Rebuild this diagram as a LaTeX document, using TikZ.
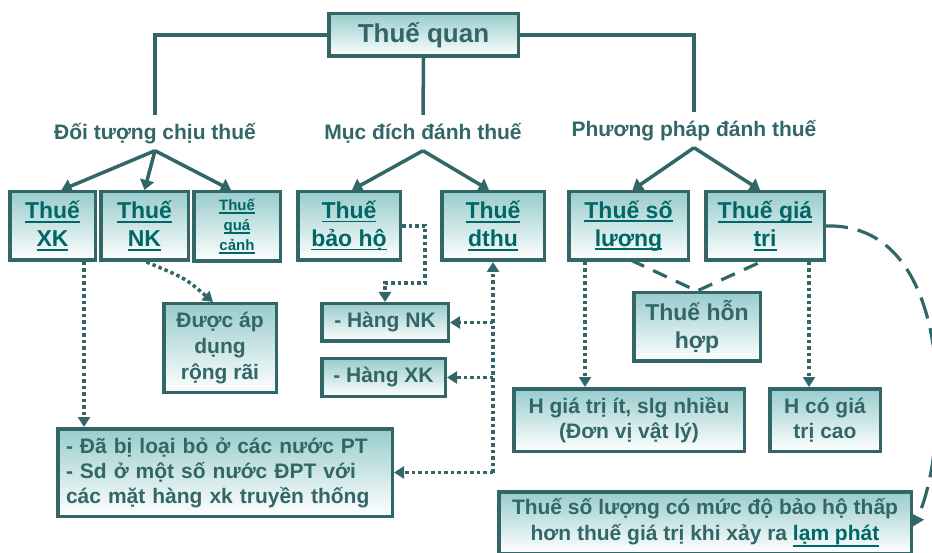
\documentclass[tikz,border=0pt]{standalone}
\usepackage{fontspec}
\setmainfont{Liberation Sans}
\newcommand{\myul}[1]{\setbox0\hbox{#1}\rlap{\vrule height -2pt depth 3.7pt width \wd0}\box0}
\newcommand{\myullow}[1]{\setbox0\hbox{#1}\rlap{\vrule height -5pt depth 6.8pt width \wd0}\box0}
\usetikzlibrary{arrows.meta,calc}
\definecolor{bord}{HTML}{336666}
\definecolor{boxtop}{HTML}{99CCCC}
\definecolor{txt}{HTML}{336666}
\definecolor{lnk}{HTML}{006666}
\tikzset{
  box/.style={draw=bord, line width=3.5pt, top color=boxtop, bottom color=white,
    inner sep=0pt, align=center, text=txt, font=\fontsize{21}{26}\selectfont\bfseries},
  topbox/.style={box, text=lnk, font=\fontsize{23}{28}\selectfont\bfseries},
  lbl/.style={text=txt, font=\fontsize{21}{24}\selectfont\bfseries, inner xsep=0pt,
    inner ysep=8.5pt, text height=16.5pt, text depth=2pt, anchor=base},
  conn/.style={draw=bord, line width=3.5pt},
  arr/.style={conn, -{Triangle[width=14pt,length=10pt]}},
  dotl/.style={draw=bord, line width=3.5pt, dash pattern=on 3.5pt off 3pt,
    -{Triangle[width=12pt,length=10pt]}},
  dashl/.style={draw=bord, line width=3.2pt, dash pattern=on 15pt off 10pt},
  dashlong/.style={draw=bord, line width=3.2pt, dash pattern=on 22pt off 10pt,
    -{Triangle[width=13pt,length=11pt]}},
}
\begin{document}
\begin{tikzpicture}[x=1pt,y=-1pt]
\clip (0,0) rectangle (932,553);
\fill[white] (0,0) rectangle (932,553);

% root
\node[box, font=\fontsize{26}{30}\selectfont\bfseries, minimum width=189.5pt, minimum height=42.5pt] (tq) at (423.5,35) {Thuế quan};

% category labels
\node[lbl] (l1) at (155,140) {Đối tượng chịu thuế};
\node[lbl] (l2) at (423,140) {Mục đích đánh thuế};
\node[lbl] (l3) at (694,137) {Phương pháp đánh thuế};

% top row boxes
\node[topbox, minimum width=85.5pt, minimum height=68.5pt] (xk) at (52.5,226) {\myul{Thuế}\\\myul{XK}};
\node[topbox, minimum width=87.5pt, minimum height=68.5pt] (nk) at (144.5,226) {\myul{Thuế}\\\myul{NK}};
\node[topbox, font=\fontsize{15}{20}\selectfont\bfseries, minimum width=86.5pt, minimum height=69.5pt] (qc) at (237,226.5) {\myul{Thuế}\\\myul{quá}\\\myul{cảnh}};
\node[topbox, minimum width=102.5pt, minimum height=68.5pt] (bh) at (349,226) {\myul{Thuế}\\\myul{bảo hộ}};
\node[topbox, minimum width=102.5pt, minimum height=68.5pt] (dt) at (493,226) {\myul{Thuế}\\\myul{dthu}};
\node[topbox, minimum width=119.5pt, minimum height=68.5pt] (sl) at (628.5,226) {\myul{Thuế số}\\\myul{lượng}};
\node[topbox, minimum width=118.5pt, minimum height=68.5pt] (gt) at (765,226) {\myul{Thuế giá}\\\myul{tri}};

% lower boxes
\node[box, minimum width=112.5pt, minimum height=88.5pt] (dad) at (220,348) {Được áp\\dụng\\rộng rãi};
\node[box, minimum width=126.5pt, minimum height=37.5pt] (hnk) at (385,322.5) {- Hàng NK};
\node[box, minimum width=123.5pt, minimum height=37.5pt] (hxk) at (383.5,377.5) {- Hàng XK};
\node[box, font=\fontsize{21}{25}\selectfont\bfseries, minimum width=334.5pt, minimum height=87.5pt, text width=318pt, align=left] (dabi) at (225,472.5) {- Đã bị loại bỏ ở các nước PT\\- Sd ở một số nước ĐPT với\\các mặt hàng xk truyền thống};
\node[box, font=\fontsize{23}{28}\selectfont\bfseries, minimum width=126.5pt, minimum height=68.5pt] (hh) at (697,327) {Thuế hỗn\\hợp};
\node[box, font=\fontsize{21}{25}\selectfont\bfseries, minimum width=230.5pt, minimum height=62.5pt] (hgt) at (629,420) {H giá trị ít, slg nhiều\\(Đơn vị vật lý)};
\node[box, font=\fontsize{21}{25}\selectfont\bfseries, minimum width=110.5pt, minimum height=62.5pt] (hcg) at (825,420) {H có giá\\trị cao};
\node[box, minimum width=412.5pt, minimum height=61.5pt] (tsl) at (705,522.5) {Thuế số lượng có mức độ bảo hộ thấp\\hơn thuế giá trị khi xảy ra {\color{lnk}\myullow{lạm phát}}};

% solid connectors
\draw[conn] (tq.west) -| (l1.north);
\draw[conn] (tq.south) -- (l2.north);
\draw[conn] (tq.east) -| (l3.north);
\draw[arr] (l1.south) -- ([xshift=9pt]xk.north);
\draw[arr] (l1.south) -- (nk.north);
\draw[arr] (l1.south) -- ([xshift=-6pt]qc.north);
\draw[arr] (l2.south) -- ([xshift=3pt]bh.north);
\draw[arr] (l2.south) -- ([xshift=-4pt]dt.north);
\draw[arr] (l3.south) -- ([xshift=4pt]sl.north);
\draw[arr] (l3.south) -- ([xshift=-5pt]gt.north);

% dotted connectors
\draw[dotl] ([xshift=31.5pt]xk.south) -- ([xshift=31.5pt]xk.south |- dabi.north);
\draw[dotl] ([xshift=2pt]nk.south) .. controls (185,278) .. ([xshift=-7pt]dad.north);
\coordinate (c1) at (425,283);
\draw[dotl] (bh.east) -| (c1) -| (hnk.north);
\coordinate (v) at (493,472.5);
\draw[dotl] (v) -- (dt.south);
\draw[dotl] (v) -- (dabi.east);
\draw[dotl] (v |- hnk.east) -- (hnk.east);
\draw[dotl] (v |- hxk.east) -- (hxk.east);
\draw[dotl] ([xshift=-43.5pt]sl.south) -- ([xshift=-43.5pt]sl.south |- hgt.north);
\draw[dotl] ([xshift=44pt]gt.south) -- ([xshift=44pt]gt.south |- hcg.north);

% dashed connectors
\draw[dashl] ([xshift=2pt,yshift=2pt]sl.south) -- (hh.north) -- ([yshift=2pt]gt.south);
\draw[dashlong] (gt.east) .. controls (960,222) and (948,455) .. ([yshift=-4pt]tsl.east);
\end{tikzpicture}
\end{document}
